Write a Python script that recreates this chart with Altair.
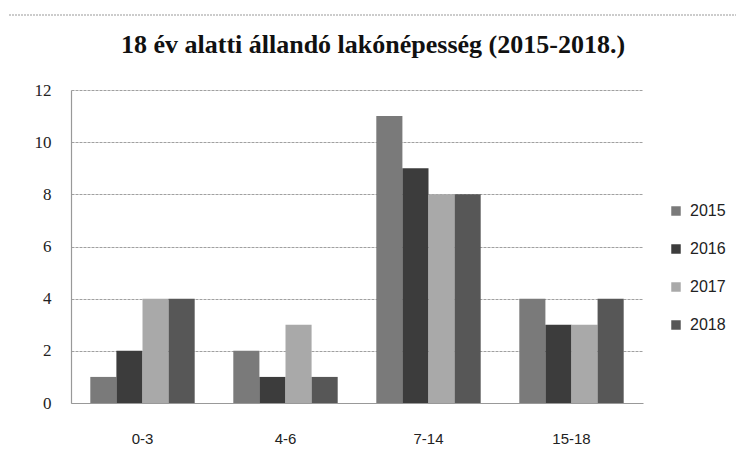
import altair as alt
import pandas as pd

categories = ["0-3", "4-6", "7-14", "15-18"]
years = ["2015", "2016", "2017", "2018"]
v2015 = [1, 2, 11, 4]
v2016 = [2, 1, 9, 3]
v2017 = [4, 3, 8, 3]
v2018 = [4, 1, 8, 4]
colors = ["#7a7a7a", "#3c3c3c", "#a9a9a9", "#575757"]
title_text = "18 év alatti állandó lakónépesség (2015-2018.)"

rows = []
for yr, vals in zip(years, [v2015, v2016, v2017, v2018]):
    for c, v in zip(categories, vals):
        rows.append({"kat": c, "ev": yr, "ertek": v})
df = pd.DataFrame(rows)

W, H = 572, 313

border = alt.Chart(pd.DataFrame({"a": [0]})).mark_rect(
    fill=None, stroke="#9a9a9a", strokeWidth=1.2, strokeDash=[2, 1]
).encode(
    x=alt.value(-68), x2=alt.value(W + 98),
    y=alt.value(-75), y2=alt.value(H + 60),
)

title = alt.Chart(pd.DataFrame({"t": [title_text]})).mark_text(
    font="Liberation Serif", fontSize=26, fontWeight="bold", color="#111",
    align="center", baseline="middle"
).encode(text="t:N", x=alt.value(W / 2 + 16), y=alt.value(-45))

bars = alt.Chart(df).mark_bar().encode(
    x=alt.X("kat:N", sort=categories, title=None,
            scale=alt.Scale(paddingInner=0.27, paddingOuter=0.135),
            axis=alt.Axis(labelAngle=0, labelFont="Liberation Sans", labelFontSize=15,
                          labelColor="#222", labelPadding=28, ticks=False,
                          domainColor="#999", domainWidth=1.2)),
    xOffset=alt.XOffset("ev:N", sort=years, scale=alt.Scale(paddingInner=0, paddingOuter=0)),
    y=alt.Y("ertek:Q", title=None,
            scale=alt.Scale(domain=[0, 12], nice=False),
            axis=alt.Axis(values=[0, 2, 4, 6, 8, 10, 12], labelFont="Liberation Serif",
                          labelFontSize=17, labelColor="#222", labelPadding=20, ticks=False,
                          domainColor="#999", domainWidth=1.2,
                          gridColor="#a0a0a0", gridWidth=1.1, gridDash=[3, 1])),
    color=alt.Color("ev:N", sort=years, title=None,
                    scale=alt.Scale(domain=years, range=colors),
                    legend=alt.Legend(orient="none", legendX=597, legendY=113,
                                      symbolType="square", symbolSize=90,
                                      symbolStrokeWidth=0,
                                      labelFont="Liberation Sans", labelFontSize=16,
                                      labelColor="#222", rowPadding=22, labelOffset=6)),
)

chart = alt.layer(border, title, bars).properties(
    width=W, height=H,
    background="white",
    autosize=alt.AutoSizeParams(type="none"),
    padding={"left": 63, "top": 82, "right": 93, "bottom": 53},
).configure_view(stroke=None)

chart.save("out.html", embed_options={"renderer": "svg", "actions": False})
